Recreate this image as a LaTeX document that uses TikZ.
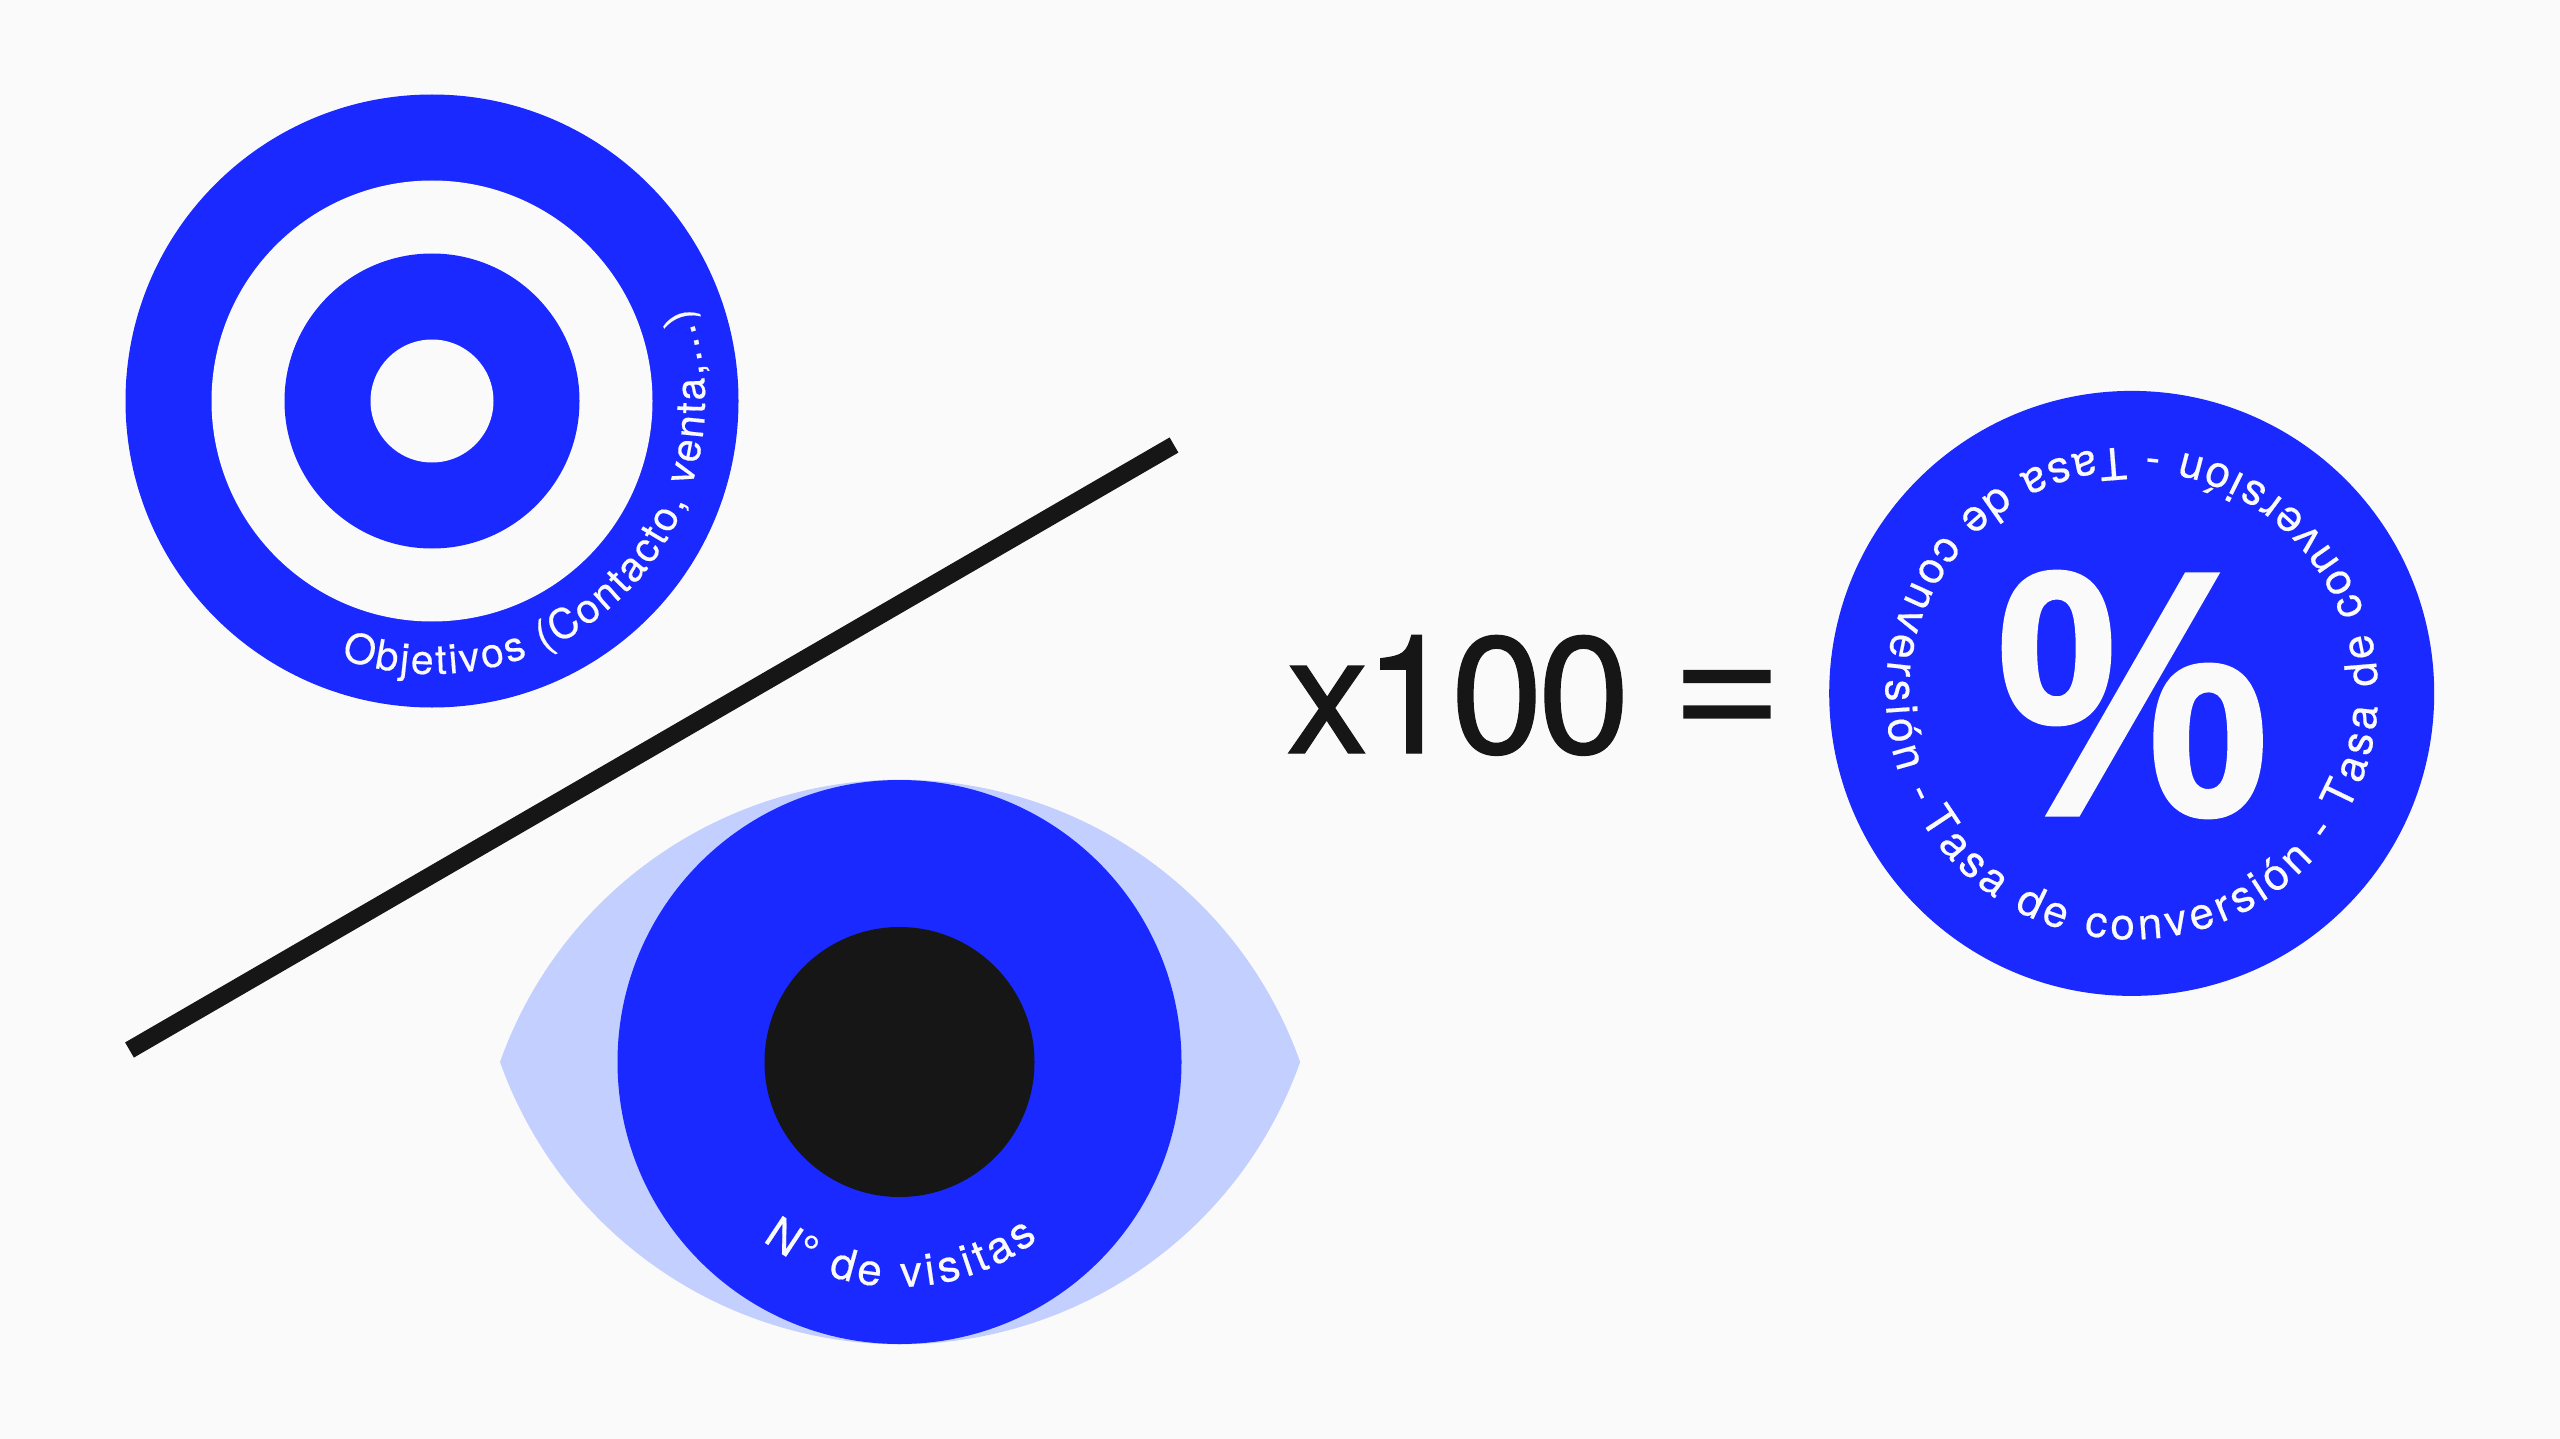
\documentclass[tikz,border=0pt]{standalone}
\usepackage{fontspec}
\setmainfont{TeX Gyre Heros}
\newfontfamily\tightfont[LetterSpace=-3.2,FakeBold=0.8]{TeX Gyre Heros}
\newfontfamily\labelfont[FakeBold=0.4]{TeX Gyre Heros}
\newfontfamily\pctfont[FakeBold=1]{Liberation Sans Bold}
\usetikzlibrary{decorations.text}
\definecolor{bgc}{RGB}{250,250,251}
\definecolor{bluec}{RGB}{26,41,255}
\definecolor{lightc}{RGB}{194,207,255}
\definecolor{darkc}{RGB}{22,22,22}
\def\lblA{\labelfont\fontsize{41}{41}\selectfont\color{bgc}}
\def\lblB{\labelfont\fontsize{44}{44}\selectfont\color{bgc}}
\def\lblC{\labelfont\fontsize{44}{44}\selectfont\color{bgc}}
\tikzset{
  bluedisc/.style={fill=bluec,draw=none},
  bgdisc/.style={fill=bgc,draw=none},
  curved/.style n args={1}{decorate,decoration={text along path,text align={fit to path},text={#1}}},
  bigtext/.style={inner sep=0pt,outer sep=0pt,text=darkc,anchor=base west}
}
\begin{document}
\begin{tikzpicture}[x=1pt,y=1pt]
\useasboundingbox (0,0) rectangle (2560,-1439);
\fill[bgc] (0,0) rectangle (2560,-1439);
% target
\coordinate (tc) at (432,-401);
\fill[bluedisc] (tc) circle[radius=306.5];
\fill[bgdisc] (tc) circle[radius=220.5];
\fill[bluedisc] (tc) circle[radius=147.5];
\fill[bgdisc] (tc) circle[radius=61.5];
\path[curved={|\lblA|Objetivos (Contacto, venta,...)}] (tc) ++(250.5:273) arc[start angle=250.5,end angle=380,radius=273];
% slash
\coordinate (sa) at (129.5,-1050);
\coordinate (sb) at (1174,-445);
\draw[darkc,line width=17.5pt] (sa) -- (sb);
% eye
\coordinate (ec) at (899.5,-1062);
\fill[lightc] (500,-1062) arc[start angle=160.4,end angle=19.6,radius=424.7] arc[start angle=-19.6,end angle=-160.4,radius=424.7] -- cycle;
\fill[bluedisc] (ec) circle[radius=282];
\fill[darkc] (ec) circle[radius=135];
\path[curved={|\lblB|N° de visitas}] (ec) ++(232.5:225) arc[start angle=232.5,end angle=308,radius=225];
% formula
\node[bigtext,font=\tightfont\fontsize{166}{166}\selectfont] (times) at (1286,-753) {x100};
\node[bigtext,font=\fontsize{195}{195}\selectfont] (eq) at (1670.7,-743.7) {=};
% result
\coordinate (rc) at (2131.7,-693.4);
\fill[bluedisc] (rc) circle[radius=302.5];
\node[inner sep=0pt,outer sep=0pt,text=bgc,anchor=center,xscale=0.88,font=\pctfont\fontsize{350}{350}\selectfont] (pct) at (2132.5,-694.5) {\%};
\path[curved={|\lblC|Tasa de conversión - Tasa de conversión - Tasa de conversión -}] (rc) ++(210.5:246) arc[start angle=210.5,end angle=567,radius=246];
\end{tikzpicture}
\end{document}
